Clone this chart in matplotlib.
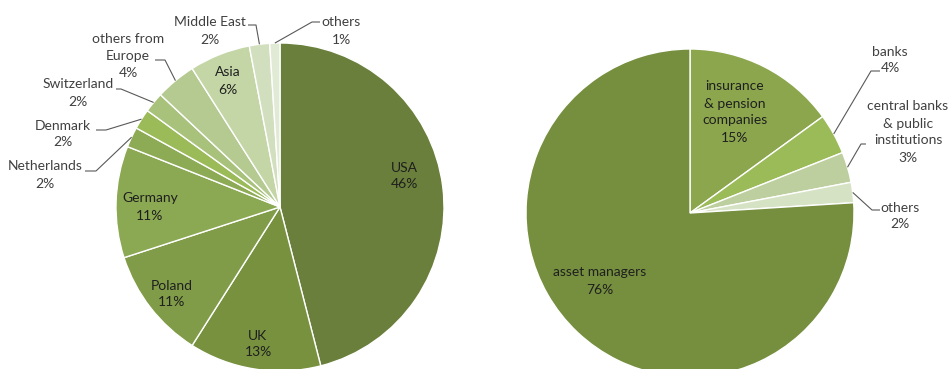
import numpy as np
import matplotlib.pyplot as plt

plt.rcParams['font.family'] = ['Lato', 'DejaVu Sans']

W, H = 949, 369

# investors by region
region_labels = ['USA', 'UK', 'Poland', 'Germany', 'Netherlands', 'Denmark',
                 'Switzerland', 'others from\nEurope', 'Asia', 'Middle East', 'others']
region_share = [46, 13, 11, 11, 2, 2, 2, 4, 6, 2, 1]
region_colors = ['#6A7F3B', '#77913F', '#809C48', '#8BA852', '#8DAA55', '#9BBB59',
                 '#A8C27C', '#B4CA91', '#C4D6A6', '#D2DFBE', '#E1EAD5']

# investors by type
type_labels = ['insurance\n& pension\ncompanies', 'banks',
               'central banks\n& public\ninstitutions', 'others', 'asset managers']
type_share = [15, 4, 3, 2, 76]
type_colors = ['#8CA64E', '#9BBB59', '#BDCF9E', '#D6E2C4', '#768F3F']

text_dark = '#1F1F1F'
text_grey = '#404040'
line_grey = '#595959'

fig = plt.figure(figsize=(W / 100, H / 100), dpi=100)
ax = fig.add_axes([0, 0, 1, 1])


def draw_pie(values, colors, cx, cy, r):
    wedges, _ = ax.pie(values, colors=colors, startangle=90, counterclock=False,
                       center=(cx, H - cy), radius=r,
                       wedgeprops=dict(edgecolor='white', linewidth=1.0))
    return wedges


def edge_point(w, cx, cy, r):
    mid = np.deg2rad((w.theta1 + w.theta2) / 2)
    return cx + r * np.cos(mid), (H - cy) + r * np.sin(mid)


def label(text, value, x, y, color):
    ax.text(x, H - y, f'{text}\n{value}%', ha='center', va='center',
            fontsize=10, color=color, linespacing=1.5)


def leader(w, cx, cy, r, pts):
    ex, ey = edge_point(w, cx, cy, r)
    xs = [p[0] for p in pts] + [ex]
    ys = [H - p[1] for p in pts] + [ey]
    ax.plot(xs, ys, color=line_grey, lw=0.8, solid_capstyle='butt')


# left pie: by region
lcx, lcy, lr = 280, 207, 164
lw = draw_pie(region_share, region_colors, lcx, lcy, lr)

inside = {0: (404, 176), 1: (258, 344), 2: (172, 294), 3: (150, 207), 8: (228, 81)}
for i, (x, y) in inside.items():
    label(region_labels[i], region_share[i], x, y, text_dark)

outside = {
    4: ((45, 175), [(85, 171), (96, 171)]),
    5: ((63, 134), [(96, 130), (106, 130)]),
    6: ((78, 93), [(116, 89), (121, 89)]),
    7: ((128, 56), [(155, 60), (165, 60)]),
    9: ((210, 31), [(248, 25), (256, 25)]),
    10: ((341, 31), [(320, 22), (312, 22)]),
}
for i, ((x, y), pts) in outside.items():
    label(region_labels[i], region_share[i], x, y, text_grey)
    leader(lw[i], lcx, lcy, lr, pts)

# right pie: by type
rcx, rcy, rr = 690, 213, 164
rw = draw_pie(type_share, type_colors, rcx, rcy, rr)

label(type_labels[0], type_share[0], 735, 112, text_dark)
label(type_labels[4], type_share[4], 600, 281, text_dark)

outside_r = {
    1: ((890, 60), [(880, 71), (871, 71)]),
    2: ((908, 132), [(866, 144), (861, 144)]),
    3: ((900, 216), [(880, 210), (872, 210)]),
}
for i, ((x, y), pts) in outside_r.items():
    label(type_labels[i], type_share[i], x, y, text_grey)
    leader(rw[i], rcx, rcy, rr, pts)

ax.set_xlim(0, W)
ax.set_ylim(0, H)
ax.set_aspect('equal')
ax.axis('off')

fig.savefig('out.png', dpi=100, facecolor='white')
